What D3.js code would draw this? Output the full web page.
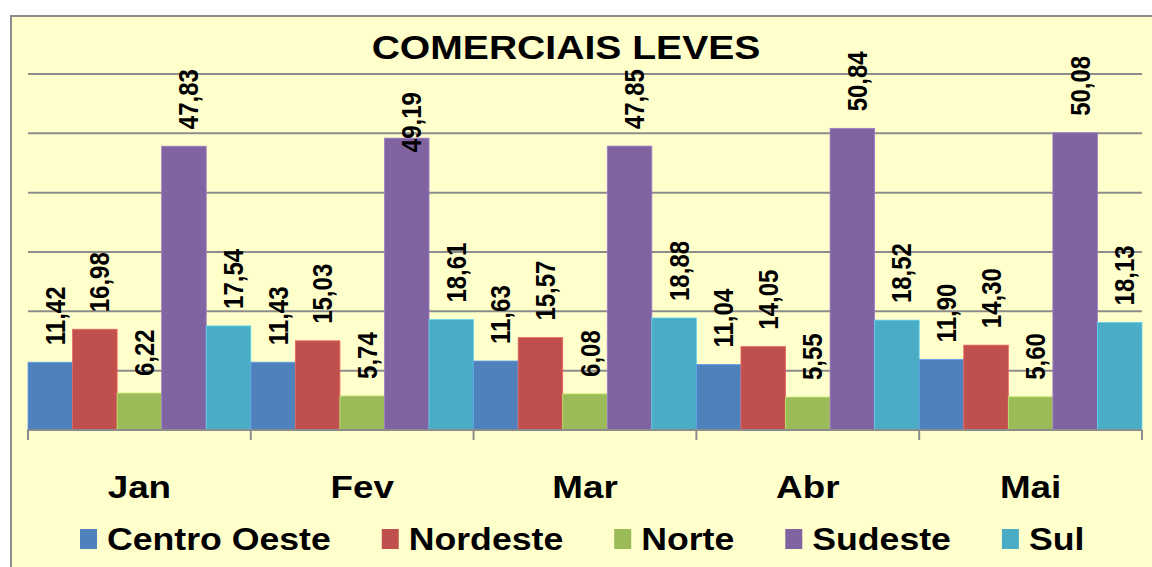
<!DOCTYPE html>
<html>
<head>
<meta charset="utf-8">
<script src="https://cdn.jsdelivr.net/npm/d3@7"></script>
<style>
  html, body { margin: 0; padding: 0; background: #fff; }
  text { font-family: "Liberation Sans", Arial, sans-serif; font-weight: bold; fill: #000; }
</style>
</head>
<body>
<div id="chart"></div>
<script>
// Data
const months = ["Jan", "Fev", "Mar", "Abr", "Mai"];
const regions = ["Centro Oeste", "Nordeste", "Norte", "Sudeste", "Sul"];
const centroOeste = [11.42, 11.43, 11.63, 11.04, 11.90];
const nordeste = [16.98, 15.03, 15.57, 14.05, 14.30];
const norte = [6.22, 5.74, 6.08, 5.55, 5.60];
const sudeste = [47.83, 49.19, 47.85, 50.84, 50.08];
const sul = [17.54, 18.61, 18.88, 18.52, 18.13];
const yTicks = [0, 10, 20, 30, 40, 50, 60];

const seriesValues = [centroOeste, nordeste, norte, sudeste, sul];
const colors = ["#4F81BD", "#C0504D", "#9BBB59", "#8064A2", "#4BACC6"];

// one label in the original was dragged down onto its bar
const labelNudge = { "Fev|Sudeste": 31 };

const W = 1152, H = 567;
const stretch = 1.15; // the original picture is a bit wider than tall
const plot = { left: 28, right: 1142, top: 74, bottom: 430 };

const svg = d3.select("#chart").append("svg")
    .attr("width", W)
    .attr("height", H);

// chart area (runs off the right and bottom edge)
svg.append("rect")
    .attr("x", 11).attr("y", 16)
    .attr("width", W + 10).attr("height", H + 10)
    .attr("fill", "#FFFFCC")
    .attr("stroke", "#8C8C8C")
    .attr("stroke-width", 2);

const x0 = d3.scaleBand()
    .domain(months)
    .range([plot.left, plot.right])
    .padding(0);

const x1 = d3.scaleBand()
    .domain(regions)
    .range([0, x0.bandwidth()])
    .padding(0);

const y = d3.scaleLinear()
    .domain([0, 60])
    .range([plot.bottom, plot.top]);

// gridlines
svg.append("g")
    .selectAll("line")
    .data(yTicks.filter(d => d > 0))
    .join("line")
    .attr("x1", plot.left).attr("x2", plot.right)
    .attr("y1", d => y(d)).attr("y2", d => y(d))
    .attr("stroke", "#8C8C8C")
    .attr("stroke-width", 2);

// bars
const data = [];
months.forEach((m, i) => {
    regions.forEach((r, j) => {
        data.push({ month: m, region: r, value: seriesValues[j][i], color: colors[j] });
    });
});

svg.append("g")
    .selectAll("rect")
    .data(data)
    .join("rect")
    .attr("x", d => x0(d.month) + x1(d.region))
    .attr("y", d => y(d.value))
    .attr("width", x1.bandwidth())
    .attr("height", d => y(0) - y(d.value))
    .attr("fill", d => d.color)
    .attr("stroke", d => d3.color(d.color).brighter(0.6))
    .attr("stroke-width", 0.8);

// x axis: baseline + ticks between groups
const axis = svg.append("g");
axis.append("line")
    .attr("x1", plot.left - 1).attr("x2", plot.right)
    .attr("y1", y(0)).attr("y2", y(0))
    .attr("stroke", "#8C8C8C")
    .attr("stroke-width", 2);
axis.selectAll(".tick")
    .data(months.map(m => x0(m)).concat([plot.right]))
    .join("line")
    .attr("x1", d => d).attr("x2", d => d)
    .attr("y1", y(0)).attr("y2", y(0) + 10)
    .attr("stroke", "#8C8C8C")
    .attr("stroke-width", 2);

// category labels
svg.append("g")
    .selectAll("text")
    .data(months)
    .join("text")
    .attr("transform", d => `translate(${x0(d) + x0.bandwidth() / 2},498) scale(${stretch},1)`)
    .attr("text-anchor", "middle")
    .style("font-size", "32px")
    .text(d => d);

// value labels, rotated
const fmt = v => v.toFixed(2).replace(".", ",");
svg.append("g")
    .selectAll("text")
    .data(data)
    .join("text")
    .attr("transform", d => {
        const cx = x0(d.month) + x1(d.region) + x1.bandwidth() / 2 + 14.5;
        const cy = y(d.value) - 17 + (labelNudge[d.month + "|" + d.region] || 0);
        return `translate(${cx},${cy}) scale(${stretch},1) rotate(-90)`;
    })
    .attr("text-anchor", "start")
    .style("font-size", "24px")
    .text(d => fmt(d.value));

// title
svg.append("text")
    .attr("transform", `translate(566,59) scale(${stretch},1)`)
    .attr("text-anchor", "middle")
    .style("font-size", "34px")
    .text("COMERCIAIS LEVES");

// legend
const legend = svg.append("g");
let lx = 80;
regions.forEach((r, j) => {
    legend.append("rect")
        .attr("x", lx).attr("y", 529)
        .attr("width", 17).attr("height", 20)
        .attr("fill", colors[j]);
    const t = legend.append("text")
        .attr("transform", `translate(${lx + 27},550) scale(${stretch},1)`)
        .style("font-size", "31px")
        .text(r);
    const w = t.node().getComputedTextLength() * stretch;
    lx += 27 + w + 51;
});
</script>
</body>
</html>
